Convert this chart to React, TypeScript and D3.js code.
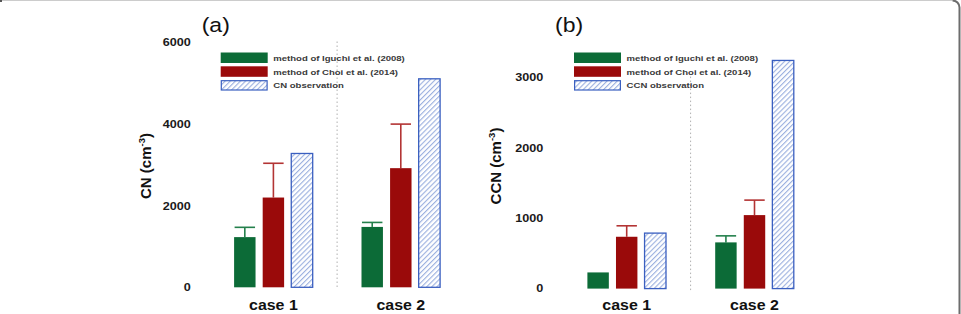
import React from "react";
import * as d3 from "d3";

// Case groups and series
const cases = ["case 1", "case 2"];
const seriesKeys = ["iguchi", "choi", "obs"];
const legendA = ["method of Iguchi et al. (2008)", "method of Choi et al. (2014)", "CN observation"];
const legendB = ["method of Iguchi et al. (2008)", "method of Choi et al. (2014)", "CCN observation"];

// Panel (a): CN concentrations (cm^-3)
const cnIguchi = [1230, 1480];
const cnIguchiErr = [1470, 1590];
const cnChoi = [2200, 2920];
const cnChoiErr = [3040, 4000];
const cnObs = [3280, 5110];
const cnTicks = [0, 2000, 4000, 6000];

// Panel (b): CCN concentrations (cm^-3)
const ccnIguchi = [230, 657];
const ccnIguchiErr = [NaN, 750];
const ccnChoi = [737, 1045];
const ccnChoiErr = [893, 1258];
const ccnObs = [789, 3244];
const ccnTicks = [0, 1000, 2000, 3000];

const GREEN = "#0c6b37";
const GREEN_ERR = "#24804c";
const RED = "#9a0a0a";
const RED_ERR = "#b33434";
const BLUE = "#3a5fc0";
const HATCH = "#8fa7dc";
const SX = 1.18;
const FONT = "'Liberation Sans', Arial, Helvetica, sans-serif";

type PanelProps = {
  id: string;
  letter: string;
  title: string;
  legend: string[];
  ticks: number[];
  yMax: number;
  yBase: number;
  yTop: number;
  centers: [number, number];
  labelRight: number;
  titleX: number;
  legendX: number;
  iguchi: number[];
  iguchiErr: number[];
  choi: number[];
  choiErr: number[];
  obs: number[];
};

function Panel(p: PanelProps) {
  const y = d3.scaleLinear().domain([0, p.yMax]).range([p.yBase, p.yTop]);
  const xCase = d3.scalePoint<string>().domain(cases).range(p.centers);
  const xInner = d3.scaleBand<string>().domain(seriesKeys).range([-39.3, 39.3]).paddingInner(0.25);
  const bw = xInner.bandwidth();
  const mid = (p.centers[0] + p.centers[1]) / 2;
  const values: Record<string, number[]> = { iguchi: p.iguchi, choi: p.choi, obs: p.obs };
  const errs: Record<string, number[] | null> = { iguchi: p.iguchiErr, choi: p.choiErr, obs: null };
  const fills: Record<string, string> = { iguchi: GREEN, choi: RED, obs: `url(#hatch-${p.id})` };
  const errColors: Record<string, string> = { iguchi: GREEN_ERR, choi: RED_ERR, obs: BLUE };

  return (
    <g fontFamily={FONT}>
      <defs>
        <pattern id={`hatch-${p.id}`} patternUnits="userSpaceOnUse" width={3.6} height={3.6} patternTransform="rotate(45)">
          <rect width={3.6} height={3.6} fill="#ffffff" />
          <line x1={0.6} y1={0} x2={0.6} y2={3.6} stroke={HATCH} strokeWidth={1} />
        </pattern>
      </defs>

      {/* panel letter */}
      <text transform={`translate(${p.legendX - 19},31.5) scale(${SX},1)`} fontSize={19.5} fill="#111">
        {p.letter}
      </text>

      {/* y tick labels */}
      {p.ticks.map((t) => (
        <text key={t} transform={`translate(${p.labelRight},${y(t) + 3.8}) scale(${SX},1)`} fontSize={10.7}
          fontWeight="bold" textAnchor="end" fill="#1a1a1a">
          {t}
        </text>
      ))}

      {/* y axis title */}
      <text transform={`translate(${p.titleX},166) rotate(-90)`} fontSize={15} fontWeight="bold" textAnchor="middle" fill="#111">
        {p.title} (cm<tspan fontSize={9.5} dy={-6}>-3</tspan><tspan dy={6}>)</tspan>
      </text>

      {/* divider between cases */}
      <line x1={mid} x2={mid} y1={p.yTop - 1} y2={p.yBase + 2} stroke="#b0b0b0" strokeWidth={1} strokeDasharray="1.5,2.5" />

      {/* bars and error bars */}
      {cases.map((c, ci) =>
        seriesKeys.map((k) => {
          const x0 = (xCase(c) as number) + (xInner(k) as number);
          const v = values[k][ci];
          const e = errs[k] ? (errs[k] as number[])[ci] : NaN;
          const isObs = k === "obs";
          return (
            <g key={`${c}-${k}`}>
              {!isNaN(e) && (
                <g stroke={errColors[k]} strokeWidth={1.6}>
                  <line x1={x0 + bw / 2} x2={x0 + bw / 2} y1={y(v)} y2={y(e)} />
                  <line x1={x0 + 0.5} x2={x0 + bw - 0.5} y1={y(e)} y2={y(e)} />
                </g>
              )}
              <rect x={x0} y={y(v)} width={bw} height={p.yBase - y(v)} fill={fills[k]}
                stroke={isObs ? BLUE : "none"} strokeWidth={isObs ? 1.3 : 0} />
            </g>
          );
        })
      )}

      {/* case labels */}
      {cases.map((c) => (
        <text key={c} transform={`translate(${xCase(c)},310) scale(1.1,1)`} fontSize={14.5} fontWeight="bold"
          textAnchor="middle" fill="#111">
          {c}
        </text>
      ))}

      {/* legend */}
      {p.legend.map((label, i) => {
        const ly = 52.5 + i * 13.8;
        const k = seriesKeys[i];
        const isObs = k === "obs";
        return (
          <g key={label}>
            <rect x={p.legendX + (isObs ? 0.6 : 0)} y={ly + (isObs ? 0.6 : 0)} width={47 - (isObs ? 1.2 : 0)}
              height={10.5 - (isObs ? 1.2 : 0)} fill={fills[k]} stroke={isObs ? BLUE : "none"} strokeWidth={isObs ? 1.2 : 0} />
            <text transform={`translate(${p.legendX + 52.6},${ly + 8.2}) scale(${SX},1)`} fontSize={8.1}
              fontWeight="bold" fill="#3a3a3a">
              {label}
            </text>
          </g>
        );
      })}
    </g>
  );
}

export default function App() {
  return (
    <div style={{ position: "absolute", left: 0, top: 0 }}>
      <svg width={961} height={314} style={{ display: "block", background: "#ffffff" }}>
        <rect width={961} height={314} fill="#ffffff" />
        {/* outer frame */}
        <path d="M0,0.5 H952.5" stroke="#cccccc" strokeWidth={1} fill="none" />
        <path d="M952.5,0.5 A7,7 0 0 1 959.5,7.5 V314" stroke="#6d6d6d" strokeWidth={2} fill="none" />
        <rect x={0} y={0} width={2} height={2} fill="#555" />

        <Panel id="a" letter="(a)" title="CN" legend={legendA} ticks={cnTicks} yMax={6000}
          yBase={287.3} yTop={42.5} centers={[273.4, 400.8]} labelRight={190.7} titleX={150.7} legendX={220.7}
          iguchi={cnIguchi} iguchiErr={cnIguchiErr} choi={cnChoi} choiErr={cnChoiErr} obs={cnObs} />
        <Panel id="b" letter="(b)" title="CCN" legend={legendB} ticks={ccnTicks} yMax={3000}
          yBase={288.6} yTop={77.6} centers={[626.7, 754.5]} labelRight={543.3} titleX={500.7} legendX={574}
          iguchi={ccnIguchi} iguchiErr={ccnIguchiErr} choi={ccnChoi} choiErr={ccnChoiErr} obs={ccnObs} />
      </svg>
    </div>
  );
}
